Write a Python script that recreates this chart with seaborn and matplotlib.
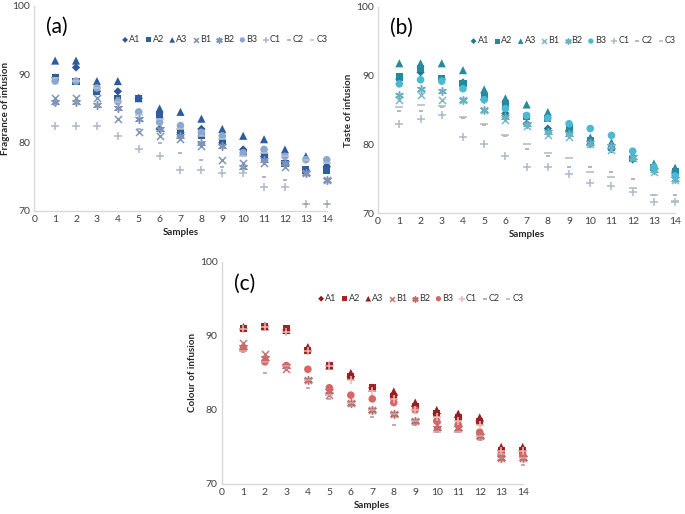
import numpy as np
import pandas as pd
import seaborn as sns
import matplotlib.pyplot as plt

sns.set_style('white')
plt.rcParams['font.family'] = ['Lato', 'DejaVu Sans']

samples = list(range(1, 15))
series = ['A1', 'A2', 'A3', 'B1', 'B2', 'B3', 'C1', 'C2', 'C3']

# (a) fragrance of infusion
frag_A1 = [89.5, 91, 87.5, 87.5, 86.5, 82, 81.5, 82, 80, 79, 78, 77, 76, 76.5]
frag_A2 = [89.5, 89, 87.5, 86.5, 86.5, 84, 81.5, 81, 80, 78.5, 78, 77, 76, 76]
frag_A3 = [92, 92, 89, 89, 86.5, 85, 84.5, 83.5, 82, 81, 80.5, 79, 78, 77]
frag_B1 = [86.5, 86.5, 86.5, 83.5, 81.5, 81, 80.5, 79.5, 77.5, 77, 77, 76.5, 75.5, 74.5]
frag_B2 = [86, 86, 85.5, 85, 83.5, 82, 81, 80, 79.5, 76.5, 77.5, 77, 75.5, 74.5]
frag_B3 = [89, 89, 88, 86, 84.5, 83, 82.5, 81.5, 81, 78.5, 79, 78, 77.5, 77.5]
frag_C1 = [82.5, 82.5, 82.5, 81, 79, 78, 76, 76, 75.5, 75.5, 73.5, 73.5, 71, 71]
frag_C2 = [85.5, 86, 85.5, 86.5, 82, 80, 78.5, 77.5, 76.5, 76.5, 75, 74.5, 71, 71]
frag_C3 = [89.5, 89, 88, 86, 84, 83.5, 82, 81, 80.5, 78, 78.5, 78, 77.5, 77]

# (b) taste of infusion
taste_A1 = [89.5, 90.5, 89.5, 89, 86.5, 84.5, 83, 82.3, 82, 80, 79.3, 77.8, 76.4, 75.8]
taste_A2 = [89.8, 91, 89.6, 88.8, 87, 86, 84, 83.7, 82.5, 80.5, 79.5, 78, 76.6, 76]
taste_A3 = [91.8, 91.8, 91.8, 90.8, 88, 86.7, 85.8, 84.7, 82.3, 81, 80.3, 78.5, 77.2, 76.6]
taste_B1 = [86.4, 87.2, 86.4, 86.4, 85, 83.5, 82.7, 81.3, 81, 80, 79.2, 78, 76, 74.8]
taste_B2 = [87.2, 88.1, 87.8, 86.4, 85, 84, 83, 81.8, 81.5, 80.2, 79.7, 78.2, 76.2, 75]
taste_B3 = [88.8, 89.4, 89.2, 88.1, 86.5, 85.2, 84.2, 83.8, 83, 82.3, 81.3, 79, 76.7, 75.4]
taste_C1 = [83, 83.7, 84.3, 81, 80, 78.3, 76.7, 76.7, 75.7, 74.3, 74, 73, 71.6, 71.6]
taste_C2 = [84.8, 84.8, 85.4, 83.8, 82.8, 81.2, 79.3, 78.3, 76.7, 76.7, 76, 75, 72.6, 72.6]
taste_C3 = [85.4, 85.8, 85.6, 84, 83, 81.3, 80, 78.7, 78, 76, 75.2, 73.7, 72.6, 71.8]

# (c) colour of infusion
col_A1 = [91, 91.3, 90.8, 88, 86, 84.5, 83, 82, 80.5, 79.5, 79, 78.5, 74.5, 74.5]
col_A2 = [91, 91.3, 91, 88, 86, 84.5, 83, 81.8, 80.5, 79.5, 79, 78.5, 74.5, 74.5]
col_A3 = [91.2, 91.3, 90.8, 88.5, 86, 85, 83, 82.5, 81, 80, 79.5, 79, 75, 75]
col_B1 = [89, 87.5, 85.5, 84, 82, 81, 80, 79.5, 78.5, 78, 77.5, 76.5, 73.5, 73.5]
col_B2 = [88.5, 87, 86, 84, 82.5, 81, 80, 79.5, 78.5, 77.5, 77.5, 76.5, 73.5, 73.5]
col_B3 = [88.3, 86.5, 86, 85.5, 83, 82, 81.5, 81, 80, 78.5, 78, 77, 74, 74]
col_C1 = [91, 91.2, 90.5, 88, 86, 84, 82.5, 81.5, 80, 79, 78.5, 78, 74.5, 74.5]
col_C2 = [87.8, 85, 85.5, 83, 81.5, 80.5, 79, 78, 78, 77, 77, 76, 73.5, 72.5]
col_C3 = [88, 86.5, 86, 84, 82, 81, 80, 79.5, 78.5, 77, 77, 76.5, 74, 73.5]

markers = {'A1': 'D', 'A2': 's', 'A3': '^', 'B1': 'x', 'B2': (6, 2, 0),
           'B3': 'o', 'C1': '+', 'C2': '_', 'C3': '_'}
sizes = {'A1': 18, 'A2': 26, 'A3': 34, 'B1': 26, 'B2': 30,
         'B3': 30, 'C1': 36, 'C2': 12, 'C3': 26}

blues = ['#2C5896', '#2E5E9E', '#2D5B9F', '#8195B8', '#7D93B7',
         '#8DA8D0', '#ADB8CA', '#9AA1AC', '#B9C2CE']
teals = ['#1E7A8C', '#2389A3', '#278B9F', '#7DB9C9', '#6AB0C3',
         '#4CB8D3', '#A9BCC8', '#9AA4AB', '#B2BABF']
reds = ['#8C1A1A', '#A42424', '#9A1E1E', '#C87A7A', '#BF6B6B',
        '#D96666', '#E6B9B9', '#B59393', '#CBAAAA']

panels = [
    ('(a)', 'Fragrance of infusion', blues,
     [frag_A1, frag_A2, frag_A3, frag_B1, frag_B2, frag_B3, frag_C1, frag_C2, frag_C3],
     [0.050, 0.5895, 0.427, 0.399]),
    ('(b)', 'Taste of infusion', teals,
     [taste_A1, taste_A2, taste_A3, taste_B1, taste_B2, taste_B3, taste_C1, taste_C2, taste_C3],
     [0.552, 0.5856, 0.4336, 0.4008]),
    ('(c)', 'Colour of infusion', reds,
     [col_A1, col_A2, col_A3, col_B1, col_B2, col_B3, col_C1, col_C2, col_C3],
     [0.324, 0.0584, 0.439, 0.432]),
]

fig = plt.figure(figsize=(6.85, 5.14), dpi=100)

for tag, ylab, colors, values, rect in panels:
    ax = fig.add_axes(rect)
    for name, vals, c in zip(series, values, colors):
        df = pd.DataFrame({'Samples': samples, 'score': vals})
        m = markers[name]
        if name in ('B1', 'B2', 'C1', 'C2', 'C3'):
            sns.scatterplot(data=df, x='Samples', y='score', ax=ax, marker=m,
                            color=c, s=sizes[name], linewidth=1.1,
                            label=name, clip_on=False)
        else:
            sns.scatterplot(data=df, x='Samples', y='score', ax=ax, marker=m,
                            color=c, s=sizes[name], edgecolor='none',
                            label=name, clip_on=False)

    ax.set_xlim(0, 14)
    ax.set_ylim(70, 100)
    ax.set_xticks(range(0, 15))
    ax.set_yticks([70, 80, 90, 100])
    ax.tick_params(length=0, labelsize=7.5, colors='#404040', pad=3)
    ax.set_xlabel('Samples', fontsize=7, fontweight='bold', labelpad=3)
    ax.set_ylabel(ylab, fontsize=7, fontweight='bold', labelpad=2)
    for side in ['top', 'right']:
        ax.spines[side].set_visible(False)
    for side in ['left', 'bottom']:
        ax.spines[side].set_color('#D9D9D9')
        ax.spines[side].set_linewidth(1)
    ax.text(0.04, 0.9, tag, transform=ax.transAxes, fontsize=15,
            ha='left', va='center', color='black')
    ax.legend(ncol=9, loc='center right', bbox_to_anchor=(1.015, 0.835),
              frameon=False, fontsize=6.5, handletextpad=0.0,
              columnspacing=0.45, handlelength=0.9, borderaxespad=0,
              markerscale=0.7, labelcolor='#333333')

fig.savefig('out.png', dpi=100)
